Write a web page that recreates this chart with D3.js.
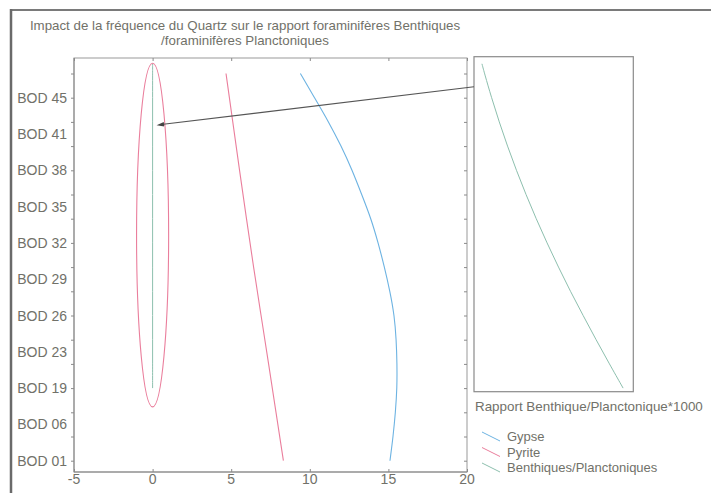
<!DOCTYPE html>
<html>
<head>
<meta charset="utf-8">
<script src="https://cdn.jsdelivr.net/npm/d3@7"></script>
<style>
  body { margin: 0; background: #fff; }
  text { font-family: Arial, "Liberation Sans", sans-serif; fill: #717169; }
</style>
</head>
<body>
<div id="chart"></div>
<script>
const W = 711, H = 493;

// y axis: sample levels (category labels every 3 units, minor ticks every 2)
const depthLabels = ["BOD 01","BOD 06","BOD 19","BOD 23","BOD 26","BOD 29","BOD 32","BOD 35","BOD 38","BOD 41","BOD 45"];
const labelDepths = [0, 3, 6, 9, 12, 15, 18, 21, 24, 27, 30];
const minorDepths = [0, 2, 4, 6, 8, 10, 12, 14, 16, 18, 20, 22, 24, 26, 28, 30, 32];
const xTicks = [-5, 0, 5, 10, 15, 20];

// Gypse
const gypseDepth = [0, 2, 4, 6, 8, 10, 12, 14, 16, 18, 20, 22, 24, 26, 28, 30, 32];
const gypse      = [15.1, 15.3, 15.45, 15.55, 15.55, 15.5, 15.38, 15.1, 14.75, 14.35, 13.9, 13.3, 12.7, 12.0, 11.2, 10.3, 9.4];

// Pyrite
const pyriteDepth = [0, 4, 8, 12, 16, 20, 24, 28, 32];
const pyrite      = [8.32, 7.85, 7.38, 6.9, 6.42, 5.97, 5.53, 5.10, 4.67];

// Benthiques/Planctoniques (main plot squashed at 0, inset on its own scale)
const bpDepth = [6, 8, 10, 12, 14, 16, 18, 20, 22, 24, 26, 28, 30, 32, 32.8];
const bpMain  = [0, 0, 0, 0, 0, 0, 0, 0, 0, 0, 0, 0, 0, 0, 0];
const bpRatio = [9.36, 8.50, 7.66, 6.85, 6.05, 5.30, 4.58, 3.90, 3.26, 2.66, 2.10, 1.58, 1.10, 0.66, 0.50];

// annotation ellipse around the squashed series (centre x, centre depth, radii)
const ellipseCentre = [0, 18.65];
const ellipseRadii  = [1.02, 14.2];

const seriesColors = { gypse: "#6db3e2", pyrite: "#ea7e9c", bp: "#8dbfae" };
const legendItems = [
  { name: "Gypse", color: seriesColors.gypse },
  { name: "Pyrite", color: seriesColors.pyrite },
  { name: "Benthiques/Planctoniques", color: seriesColors.bp }
];

const svg = d3.select("#chart").append("svg").attr("width", W).attr("height", H);

// outer frame
svg.append("line").attr("x1", 10).attr("x2", W).attr("y1", 10).attr("y2", 10).attr("stroke", "#7a7a7a").attr("stroke-width", 2);
svg.append("line").attr("x1", 11).attr("x2", 11).attr("y1", 9).attr("y2", H).attr("stroke", "#6a6a6a").attr("stroke-width", 2.5);

// title
const title = svg.append("text").attr("text-anchor", "middle").attr("font-size", 13.3);
title.append("tspan").attr("x", 245).attr("y", 30).text("Impact de la fréquence du Quartz sur le rapport foraminifères Benthiques");
title.append("tspan").attr("x", 245).attr("y", 45).text("/foraminifères Planctoniques");

// main plot
const plotL = 74, plotR = 467, plotT = 58, plotB = 472;
const x = d3.scaleLinear([-5, 20], [plotL, plotR]);
const y = d3.scaleLinear([0, 30], [460.7, 97.7]);

const axisColor = "#8a8a8a";
svg.append("rect").attr("x", plotL).attr("y", plotT).attr("width", plotR - plotL).attr("height", plotB - plotT)
  .attr("fill", "none").attr("stroke", "#999").attr("stroke-width", 1);
svg.append("line").attr("x1", plotL).attr("x2", plotL).attr("y1", plotT).attr("y2", plotB).attr("stroke", axisColor);
svg.append("line").attr("x1", plotL).attr("x2", plotR).attr("y1", plotB).attr("y2", plotB).attr("stroke", axisColor);

// y axis left: ticks, labels
svg.append("g").attr("transform", `translate(${plotL},0)`)
  .call(d3.axisLeft(y).tickValues(minorDepths).tickSize(3).tickFormat(""))
  .call(g => g.select(".domain").remove())
  .call(g => g.selectAll("line").attr("stroke", axisColor));
svg.append("g").selectAll("text").data(labelDepths).join("text")
  .attr("x", 67).attr("y", d => y(d) + 5).attr("text-anchor", "end").attr("font-size", 14)
  .text((d, i) => depthLabels[i]);
// right ticks
svg.append("g").attr("transform", `translate(${plotR},0)`)
  .call(d3.axisLeft(y).tickValues(minorDepths).tickSize(3).tickFormat(""))
  .call(g => g.select(".domain").remove())
  .call(g => g.selectAll("line").attr("stroke", axisColor));

// x axis
svg.append("g").attr("transform", `translate(0,${plotB})`)
  .call(d3.axisTop(x).tickValues(xTicks).tickSize(3).tickFormat(""))
  .call(g => g.select(".domain").remove())
  .call(g => g.selectAll("line").attr("stroke", axisColor));
svg.append("g").attr("transform", `translate(0,${plotT})`)
  .call(d3.axisBottom(x).tickValues(xTicks).tickSize(3).tickFormat(""))
  .call(g => g.select(".domain").remove())
  .call(g => g.selectAll("line").attr("stroke", axisColor));
svg.append("g").selectAll("text").data(xTicks).join("text")
  .attr("x", d => x(d)).attr("y", 484).attr("text-anchor", "middle").attr("font-size", 14)
  .text(d => d);

// series
const lineMain = d3.line().x(d => x(d[0])).y(d => y(d[1])).curve(d3.curveBasis);
svg.append("path").datum(gypse.map((v, i) => [v, gypseDepth[i]]))
  .attr("d", lineMain).attr("fill", "none").attr("stroke", seriesColors.gypse).attr("stroke-width", 1.1);
svg.append("path").datum(pyrite.map((v, i) => [v, pyriteDepth[i]]))
  .attr("d", lineMain).attr("fill", "none").attr("stroke", seriesColors.pyrite).attr("stroke-width", 1.1);
svg.append("path").datum(bpMain.map((v, i) => [v, bpDepth[i]]))
  .attr("d", lineMain).attr("fill", "none").attr("stroke", seriesColors.bp).attr("stroke-width", 1);

// ellipse annotation
svg.append("ellipse")
  .attr("cx", x(ellipseCentre[0])).attr("cy", y(ellipseCentre[1]))
  .attr("rx", x(ellipseRadii[0]) - x(0)).attr("ry", y(0) - y(ellipseRadii[1]))
  .attr("fill", "none").attr("stroke", seriesColors.pyrite).attr("stroke-width", 1.1);

// inset panel
const xi = d3.scaleLinear([0, 10], [474, 633.3]);
const insetT = 56.7, insetB = 391.7;
svg.append("rect").attr("x", xi(0)).attr("y", insetT).attr("width", xi(10) - xi(0)).attr("height", insetB - insetT)
  .attr("fill", "none").attr("stroke", "#8a8a8a").attr("stroke-width", 1.2);
const lineInset = d3.line().x(d => xi(d[0])).y(d => y(d[1])).curve(d3.curveBasis);
svg.append("path").datum(bpRatio.map((v, i) => [v, bpDepth[i]]))
  .attr("d", lineInset).attr("fill", "none").attr("stroke", seriesColors.bp).attr("stroke-width", 1);
svg.append("text").attr("x", 475).attr("y", 411).attr("font-size", 13.4)
  .text("Rapport Benthique/Planctonique*1000");

// arrow from inset to the squashed series
const defs = svg.append("defs");
defs.append("marker").attr("id", "head").attr("viewBox", "0 0 10 6").attr("refX", 1).attr("refY", 3)
  .attr("markerWidth", 11).attr("markerHeight", 4.5).attr("markerUnits", "userSpaceOnUse").attr("orient", "auto")
  .append("path").attr("d", "M10,3L0,0L0,6Z").attr("fill", "#444");
svg.append("line")
  .attr("x1", xi(0)).attr("y1", y(30.9))
  .attr("x2", x(0.68)).attr("y2", y(27.8))
  .attr("stroke", "#555").attr("stroke-width", 1.1)
  .attr("marker-end", "url(#head)");

// legend
const legend = svg.append("g").selectAll("g").data(legendItems).join("g")
  .attr("transform", (d, i) => `translate(0,${441 + i * 15.5})`);
legend.append("line").attr("x1", 482).attr("y1", -9).attr("x2", 500).attr("y2", 0)
  .attr("stroke", d => d.color).attr("stroke-width", 1);
legend.append("text").attr("x", 507).attr("y", 0).attr("font-size", 13).text(d => d.name);
</script>
</body>
</html>
